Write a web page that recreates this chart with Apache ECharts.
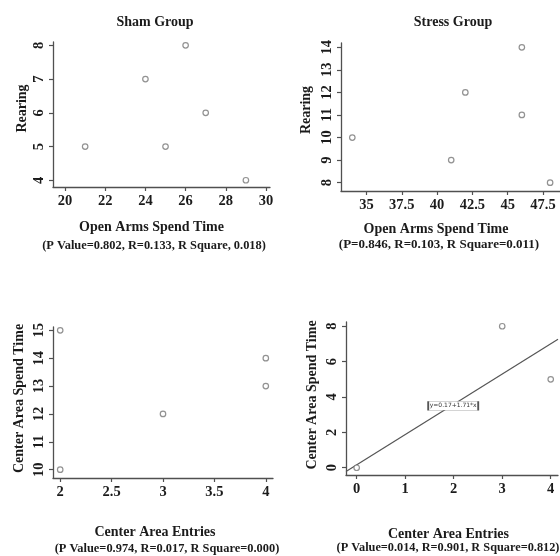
<!DOCTYPE html>
<html>
<head>
<meta charset="utf-8">
<script src="https://cdn.jsdelivr.net/npm/echarts@6/dist/echarts.min.js"></script>
<style>
  html, body { margin: 0; padding: 0; background: #fff; }
  #main { width: 560px; height: 556px; }
</style>
</head>
<body>
<div id="main"></div>
<script>
// data
const shamOpenTime = [21, 24, 25, 26, 27, 29]
const shamRearing = [5, 7, 5, 8, 6, 4]
const stressOpenTime = [34, 41, 42, 46, 46, 48]
const stressRearing = [10, 9, 12, 14, 11, 8]
const shamEntries = [2, 2, 3, 4, 4]
const shamCenterTime = [15, 10, 12, 14, 13]
const stressEntries = [0, 3, 4]
const stressCenterTime = [0, 8, 5]
const fitCoef = [0.17, 1.71] // intercept, slope of the stress fit line
const fitText = 'y=0.17+1.71*x'

// tick labels
const ticksShamX = [20, 22, 24, 26, 28, 30]
const ticksShamY = [4, 5, 6, 7, 8]
const ticksStressX = [35, 37.5, 40, 42.5, 45, 47.5]
const ticksStressY = [8, 9, 10, 11, 12, 13, 14]
const ticksEntriesX = [2, 2.5, 3, 3.5, 4]
const ticksCenterY = [10, 11, 12, 13, 14, 15]
const ticksEntries2X = [0, 1, 2, 3, 4]
const ticksCenter2Y = [0, 2, 4, 6, 8]

const groupTitles = ['Sham Group', 'Stress Group']
const statLines = [
  '(P Value=0.802, R=0.133, R Square, 0.018)',
  '(P=0.846, R=0.103, R Square=0.011)',
  '(P Value=0.974, R=0.017, R Square=0.000)',
  '(P Value=0.014, R=0.901, R Square=0.812)'
]

const FONT = 'Liberation Serif'
const TXT = '#1b1b1b'
const AXC = '#505050'

const zip = (a, b) => a.map((v, i) => [v, b[i]])

function xAx (idx, min, max, ticks, name, padRight, gap) {
  return {
    type: 'value', gridIndex: idx, min: min, max: max,
    name: name, nameLocation: 'middle', nameGap: gap,
    nameTextStyle: { fontFamily: FONT, fontWeight: 'bold', fontSize: 14, color: TXT, padding: [0, padRight, 0, 0] },
    splitLine: { show: false },
    axisLine: { show: true, onZero: false, lineStyle: { color: AXC, width: 1.3 } },
    axisTick: { show: true, length: 4, customValues: ticks, lineStyle: { color: AXC, width: 1.2 } },
    axisLabel: { customValues: ticks, margin: 7, fontFamily: FONT, fontWeight: 'bold', fontSize: 14.5, color: TXT }
  }
}

function yAx (idx, min, max, ticks, name, gap, padLeft) {
  return {
    type: 'value', gridIndex: idx, min: min, max: max,
    name: name, nameLocation: 'middle', nameGap: gap,
    nameTextStyle: { fontFamily: FONT, fontWeight: 'bold', fontSize: 14, color: TXT, padding: [0, 0, 0, padLeft] },
    splitLine: { show: false },
    axisLine: { show: true, onZero: false, lineStyle: { color: AXC, width: 1.3 } },
    axisTick: { show: true, length: 4, customValues: ticks, lineStyle: { color: AXC, width: 1.2 } },
    axisLabel: { customValues: ticks, rotate: 90, margin: 6, fontFamily: FONT, fontWeight: 'bold', fontSize: 14.5, color: TXT }
  }
}

function dots (idx, data) {
  return {
    type: 'scatter', xAxisIndex: idx, yAxisIndex: idx, data: data,
    symbol: 'circle', symbolSize: 5.5,
    itemStyle: { color: '#fff', borderColor: '#777', borderWidth: 1.2 },
    emphasis: { disabled: true }, silent: true, z: 3
  }
}

function statTitle (text, x, top, size) {
  return {
    text: text, left: x, top: top, textAlign: 'center', padding: 0,
    textStyle: { fontFamily: FONT, fontWeight: 'bold', fontSize: size, color: TXT }
  }
}

const fitX = [-0.22, 4.15]
const fitLine = fitX.map(x => [x, fitCoef[0] + fitCoef[1] * x])

const chart = echarts.init(document.getElementById('main'), null, { renderer: 'canvas' })
chart.setOption({
  animation: false,
  backgroundColor: '#fff',
  title: [
    { text: groupTitles[0], left: 155, top: 15, textAlign: 'center', padding: 0, textStyle: { fontFamily: FONT, fontWeight: 'bold', fontSize: 14, color: TXT } },
    { text: groupTitles[1], left: 453, top: 15, textAlign: 'center', padding: 0, textStyle: { fontFamily: FONT, fontWeight: 'bold', fontSize: 14, color: TXT } },
    statTitle(statLines[0], 154, 240, 12.4),
    statTitle(statLines[1], 439, 238.5, 13),
    statTitle(statLines[2], 167, 543, 12.4),
    statTitle(statLines[3], 448, 542, 12.3)
  ],
  grid: [
    { left: 53, top: 42, width: 217, height: 145, containLabel: false, outerBoundsMode: 'none' },
    { left: 341, top: 43, width: 219, height: 148, containLabel: false, outerBoundsMode: 'none' },
    { left: 53, top: 327, width: 220, height: 151, containLabel: false, outerBoundsMode: 'none' },
    { left: 346, top: 322, width: 212, height: 153, containLabel: false, outerBoundsMode: 'none' }
  ],
  xAxis: [
    xAx(0, 19.4, 30.2, ticksShamX, 'Open Arms Spend Time', 20, 33),
    xAx(1, 33.2, 48.7, ticksStressX, 'Open Arms Spend Time', 29, 31),
    xAx(2, 1.93, 4.07, ticksEntriesX, 'Center Area Entries', 16, 47),
    xAx(3, -0.22, 4.15, ticksEntries2X, 'Center Area Entries', 7, 52)
  ],
  yAxis: [
    yAx(0, 3.80, 8.10, ticksShamY, 'Rearing', 24, 12),
    yAx(1, 7.63, 14.19, ticksStressY, 'Rearing', 28, 14),
    yAx(2, 9.70, 15.12, ticksCenterY, 'Center Area Spend Time', 27, 8),
    yAx(3, -0.41, 8.24, ticksCenter2Y, 'Center Area Spend Time', 27, 7)
  ],
  series: [
    dots(0, zip(shamOpenTime, shamRearing)),
    dots(1, zip(stressOpenTime, stressRearing)),
    dots(2, zip(shamEntries, shamCenterTime)),
    dots(3, zip(stressEntries, stressCenterTime)),
    {
      type: 'line', xAxisIndex: 3, yAxisIndex: 3, data: fitLine,
      showSymbol: false, symbol: 'none', silent: true, z: 2,
      lineStyle: { color: '#555', width: 1.2 },
      markPoint: {
        silent: true,
        symbol: 'rect', symbolSize: [50, 9],
        itemStyle: { color: '#fff', borderColor: '#555', borderWidth: 0.8 },
        label: { show: true, position: 'inside', formatter: fitText, fontFamily: 'DejaVu Sans', fontSize: 6, color: '#333' },
        data: [{ coord: [1.99, 3.5] }]
      }
    }
  ]
})
</script>
</body>
</html>
